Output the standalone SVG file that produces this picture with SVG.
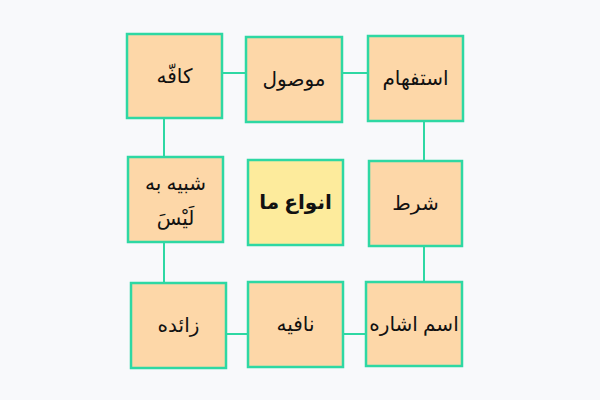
<svg xmlns="http://www.w3.org/2000/svg" width="600" height="400" viewBox="0 0 600 400">
<style>
.box{fill:#fdd7a8;stroke:#2ed8a3;stroke-width:2.5}
.center{fill:#fdeb9c;stroke:#2ed8a3;stroke-width:2.5}
.t{font-family:"Noto Sans","DejaVu Sans",sans-serif;font-size:20px;fill:#111;text-anchor:middle;dominant-baseline:central}
.c line{stroke:#2ed8a3;stroke-width:2}
</style>
<rect width="600" height="400" fill="#f8f9fb"/>
<g class="c" id="connectors">
<line x1="222" y1="73" x2="246" y2="73"/>
<line x1="342" y1="73" x2="368" y2="73"/>
<line x1="164" y1="118" x2="164" y2="157"/>
<line x1="164" y1="242" x2="164" y2="283"/>
<line x1="424" y1="121" x2="424" y2="161"/>
<line x1="424" y1="246" x2="424" y2="282"/>
<line x1="226" y1="334" x2="248" y2="334"/>
<line x1="343" y1="334" x2="366" y2="334"/>
</g>
<g id="kaffe"><rect class="box" x="127" y="34" width="95" height="84"/><text class="t" x="174.5" y="75" direction="rtl">کافّه</text></g>
<g id="mowsul"><rect class="box" x="246" y="37" width="96" height="85"/><text class="t" x="294" y="78" direction="rtl">موصول</text></g>
<g id="estefham"><rect class="box" x="368" y="36" width="95" height="85"/><text class="t" x="415.5" y="77" direction="rtl">استفهام</text></g>
<g id="shabih"><rect class="box" x="128" y="157" width="95" height="85"/><text class="t" x="175.5" y="182" direction="rtl">شبیه به</text><text class="t" x="175.5" y="217" direction="rtl">لَیْسَ</text></g>
<g id="anva"><rect class="center" x="248" y="160" width="95" height="85"/><text class="t" x="295.5" y="201" font-weight="bold" direction="rtl">انواع ما</text></g>
<g id="shart"><rect class="box" x="369" y="161" width="93" height="85"/><text class="t" x="415.5" y="202" direction="rtl">شرط</text></g>
<g id="zaede"><rect class="box" x="131" y="283" width="95" height="85"/><text class="t" x="178.5" y="324" direction="rtl">زائده</text></g>
<g id="nafie"><rect class="box" x="248" y="282" width="95" height="85"/><text class="t" x="295.5" y="323" direction="rtl">نافیه</text></g>
<g id="esm"><rect class="box" x="366" y="282" width="96" height="84"/><text class="t" x="414" y="323" direction="rtl">اسم اشاره</text></g>
</svg>
